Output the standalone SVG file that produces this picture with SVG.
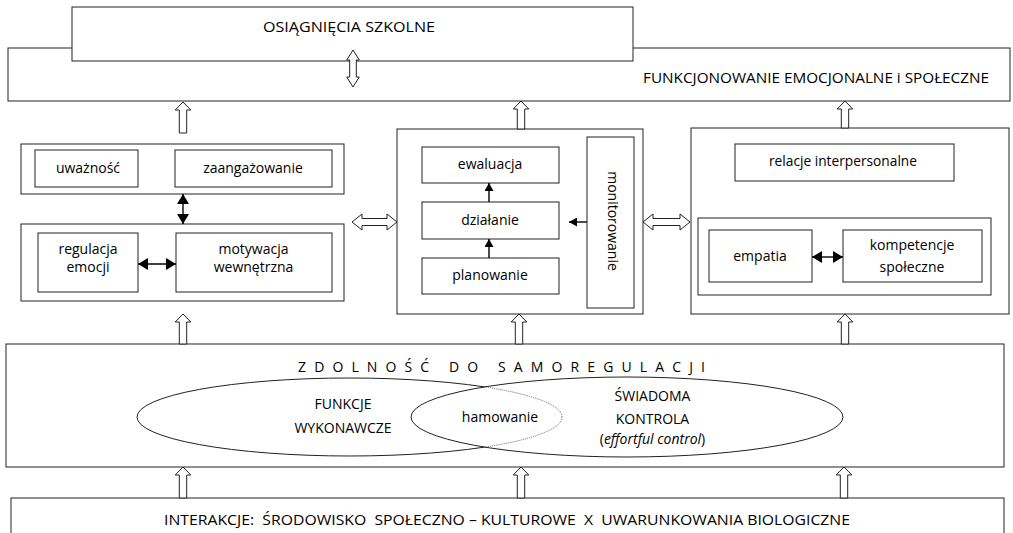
<svg xmlns="http://www.w3.org/2000/svg" width="1013" height="533" viewBox="0 0 1013 533">
<defs>
<style>
.box{fill:#fff;stroke:#222;stroke-width:1}
.nofill{fill:none;stroke:#222;stroke-width:1}
.t{font-family:"Open Sans","Noto Sans",sans-serif;font-size:14px;fill:#000;text-anchor:middle}
.hollow{fill:#fff;stroke:#222;stroke-width:1;stroke-linejoin:miter}
.arr{stroke:#000;stroke-width:1.4;fill:none}
.dot{fill:none;stroke:#555;stroke-width:0.9;stroke-dasharray:1 1}
</style>
<marker id="tri" viewBox="0 0 10 10" refX="10" refY="5" markerUnits="userSpaceOnUse" markerWidth="10" markerHeight="12" orient="auto-start-reverse" preserveAspectRatio="none">
<path d="M0,0 L10,5 L0,10 Z" fill="#000"/>
</marker>
<marker id="tris" viewBox="0 0 10 10" refX="10" refY="5" markerUnits="userSpaceOnUse" markerWidth="8" markerHeight="9" orient="auto-start-reverse" preserveAspectRatio="none">
<path d="M0,0 L10,5 L0,10 Z" fill="#000"/>
</marker>
<clipPath id="inE2"><ellipse cx="627" cy="417" rx="216" ry="40"/></clipPath>
</defs>

<g id="funkcjonowanie">
<rect class="box" x="8" y="48" width="1002" height="53"/>
<text class="t" x="816" y="83" textLength="346" lengthAdjust="spacingAndGlyphs">FUNKCJONOWANIE EMOCJONALNE i SPOŁECZNE</text>
</g>

<g id="osiagniecia">
<rect class="box" x="72" y="7" width="561" height="54"/>
<text class="t" x="349" y="31.5" textLength="172" lengthAdjust="spacingAndGlyphs">OSIĄGNIĘCIA SZKOLNE</text>
</g>

<g id="panel-lewy">
<rect class="box" x="21" y="144" width="323" height="50"/>
<g id="uwaznosc"><rect class="box" x="35" y="150" width="103" height="37"/><text class="t" x="88" y="172.5">uważność</text></g>
<g id="zaangazowanie"><rect class="box" x="175" y="150" width="157" height="37"/><text class="t" x="253" y="172.5">zaangażowanie</text></g>
<rect class="box" x="21" y="224" width="323" height="77"/>
<g id="regulacja"><rect class="box" x="38" y="233" width="100" height="59"/><text class="t" x="88" y="254">regulacja</text><text class="t" x="88" y="272">emocji</text></g>
<g id="motywacja"><rect class="box" x="176" y="233" width="156" height="59"/><text class="t" x="253.5" y="254">motywacja</text><text class="t" x="253.5" y="272">wewnętrzna</text></g>
</g>

<g id="panel-srodek">
<rect class="box" x="397" y="129" width="246" height="185"/>
<g id="ewaluacja"><rect class="box" x="422" y="147" width="137" height="36"/><text class="t" x="490" y="168.5">ewaluacja</text></g>
<g id="dzialanie"><rect class="box" x="422" y="202" width="137" height="37"/><text class="t" x="490" y="224.5">działanie</text></g>
<g id="planowanie"><rect class="box" x="422" y="258" width="137" height="36"/><text class="t" x="490" y="280">planowanie</text></g>
<g id="monitorowanie"><rect class="box" x="587" y="137" width="47" height="171"/><text class="t" transform="translate(607.5 221) rotate(90)" x="0" y="0">monitorowanie</text></g>
</g>

<g id="panel-prawy">
<rect class="box" x="691" y="128" width="318" height="186"/>
<g id="relacje"><rect class="box" x="735" y="144" width="219" height="37"/><text class="t" x="843" y="165.5" textLength="148" lengthAdjust="spacingAndGlyphs">relacje interpersonalne</text></g>
<rect class="box" x="698" y="218" width="293" height="77"/>
<g id="empatia"><rect class="box" x="709" y="230" width="103" height="52"/><text class="t" x="760" y="261">empatia</text></g>
<g id="kompetencje"><rect class="box" x="843" y="230" width="139" height="52"/><text class="t" x="912" y="250">kompetencje</text><text class="t" x="912" y="272">społeczne</text></g>
</g>

<g id="zdolnosc">
<rect class="box" x="6" y="344" width="998" height="123"/>
<text class="t" x="298" y="372" style="text-anchor:start" textLength="407" lengthAdjust="spacing">ZDOLNOŚĆ DO SAMOREGULACJI</text>
<g id="funkcje-wykonawcze">
<ellipse class="nofill" cx="349.5" cy="417" rx="212.5" ry="39"/>
</g>
<g id="swiadoma-kontrola">
<ellipse class="box" cx="627" cy="417" rx="216" ry="40"/>
</g>
<ellipse class="dot" cx="349.5" cy="417" rx="212.5" ry="39" clip-path="url(#inE2)"/>
<text class="t" x="343" y="409">FUNKCJE</text>
<text class="t" x="343" y="433">WYKONAWCZE</text>
<g id="hamowanie"><text class="t" x="500" y="422">hamowanie</text></g>
<text class="t" x="652.5" y="401">ŚWIADOMA</text>
<text class="t" x="652.5" y="423.5">KONTROLA</text>
<text class="t" x="652.5" y="443.5">(<tspan font-style="italic">effortful control</tspan>)</text>
</g>

<g id="interakcje">
<rect class="box" x="11" y="498" width="993" height="50"/>
<text class="t" x="164" y="525" style="text-anchor:start" xml:space="preserve" textLength="686" lengthAdjust="spacingAndGlyphs">INTERAKCJE:  ŚRODOWISKO  SPOŁECZNO – KULTUROWE  X  UWARUNKOWANIA BIOLOGICZNE</text>
</g>

<g id="connectors">
<polygon class="hollow" points="353,50 359.3,60 356.3,60 356.3,77 359.3,77 353,87 346.7,77 349.7,77 349.7,60 346.7,60"/>
<polygon class="hollow" points="183,102 190.8,110 186.7,110 186.7,133 179.3,133 179.3,110 175.2,110"/>
<polygon class="hollow" points="521,101 528.8,109 524.7,109 524.7,129 517.3,129 517.3,109 513.2,109"/>
<polygon class="hollow" points="845,101 852.8,109 848.7,109 848.7,128 841.3,128 841.3,109 837.2,109"/>
<polygon class="hollow" points="183,314 190.8,322 186.7,322 186.7,344 179.3,344 179.3,322 175.2,322"/>
<polygon class="hollow" points="519,314 526.8,322 522.7,322 522.7,344 515.3,344 515.3,322 511.2,322"/>
<polygon class="hollow" points="845,314 852.8,322 848.7,322 848.7,344 841.3,344 841.3,322 837.2,322"/>
<polygon class="hollow" points="183,467 190.8,475 186.7,475 186.7,498 179.3,498 179.3,475 175.2,475"/>
<polygon class="hollow" points="521,467 528.8,475 524.7,475 524.7,498 517.3,498 517.3,475 513.2,475"/>
<polygon class="hollow" points="844,467 851.8,475 847.7,475 847.7,498 840.3,498 840.3,475 836.2,475"/>
<polygon class="hollow" points="352,222 362,214 362,218.5 387,218.5 387,214 397,222 387,230 387,225.5 362,225.5 362,230"/>
<polygon class="hollow" points="643,222 653,214 653,218.5 680,218.5 680,214 690,222 680,230 680,225.5 653,225.5 653,230"/>
<line class="arr" x1="183" y1="194" x2="183" y2="224" marker-start="url(#tri)" marker-end="url(#tri)"/>
<line class="arr" x1="138" y1="264" x2="176" y2="264" marker-start="url(#tri)" marker-end="url(#tri)"/>
<line class="arr" x1="489" y1="258" x2="489" y2="239" marker-end="url(#tris)"/>
<line class="arr" x1="489" y1="202" x2="489" y2="183" marker-end="url(#tris)"/>
<line class="arr" x1="587" y1="222" x2="569" y2="222" marker-end="url(#tris)"/>
<line class="arr" x1="812" y1="257" x2="843" y2="257" marker-start="url(#tri)" marker-end="url(#tri)"/>
</g>
</svg>
